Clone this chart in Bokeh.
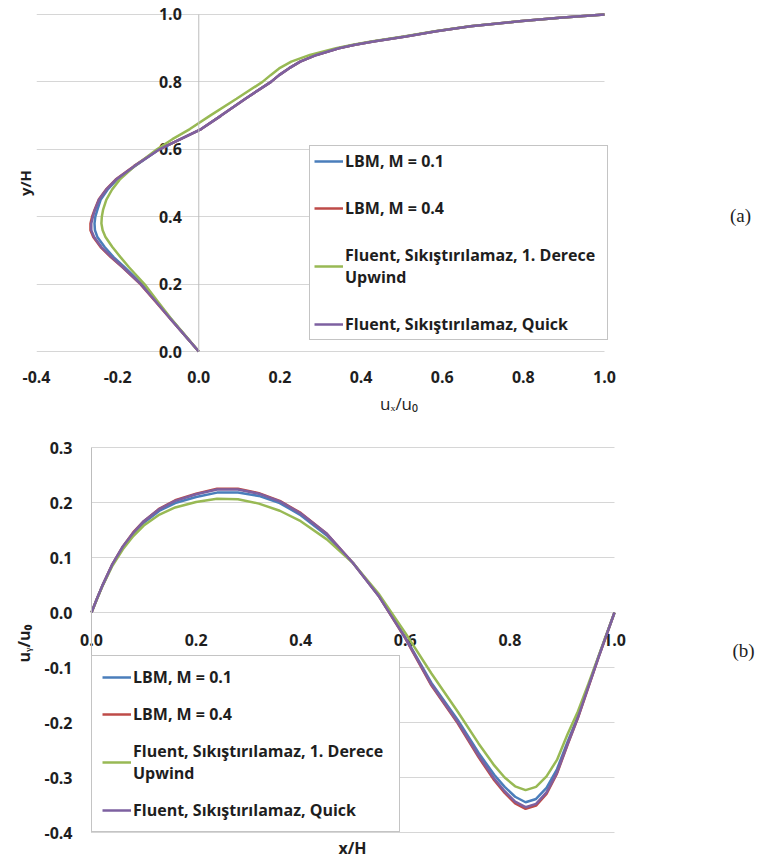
from bokeh.plotting import figure
from bokeh.models import (FixedTicker, Legend, LegendItem, Label, Range1d, Arrow,
                          NumeralTickFormatter, Grid)
from bokeh.core.properties import value
from bokeh.layouts import column
from bokeh.embed import file_html
from bokeh.resources import INLINE

# ---------------- data: (a) u_x/u_0 along the vertical centreline ----------------
y_a = [0.0, 0.05, 0.10, 0.15, 0.20, 0.25, 0.28, 0.31, 0.34, 0.36, 0.38, 0.40,
       0.42, 0.45, 0.48, 0.51, 0.55, 0.60, 0.63, 0.66, 0.70, 0.75, 0.80, 0.82,
       0.84, 0.86, 0.88, 0.90, 0.91, 0.92, 0.935, 0.95, 0.965, 0.98, 0.99, 1.00]
ux_lbm01 = [0.0, -0.036, -0.071, -0.105, -0.140, -0.183, -0.210, -0.232, -0.250,
            -0.256, -0.257, -0.255, -0.250, -0.242, -0.225, -0.202, -0.158, -0.097,
            -0.045, 0.006, 0.055, 0.115, 0.178, 0.198, 0.222, 0.250, 0.290, 0.345,
            0.385, 0.430, 0.510, 0.585, 0.670, 0.790, 0.890, 1.0]
ux_lbm04 = [0.0, -0.036, -0.072, -0.108, -0.144, -0.188, -0.217, -0.242, -0.260,
            -0.267, -0.267, -0.263, -0.257, -0.247, -0.229, -0.205, -0.160, -0.098,
            -0.045, 0.006, 0.055, 0.115, 0.178, 0.198, 0.222, 0.250, 0.290, 0.345,
            0.385, 0.430, 0.510, 0.585, 0.670, 0.790, 0.890, 1.0]
ux_upwind = [0.0, -0.035, -0.070, -0.102, -0.134, -0.172, -0.193, -0.213, -0.230,
             -0.237, -0.240, -0.239, -0.236, -0.228, -0.214, -0.195, -0.158, -0.103,
             -0.065, -0.022, 0.028, 0.093, 0.157, 0.177, 0.198, 0.228, 0.274, 0.338,
             0.380, 0.425, 0.505, 0.582, 0.668, 0.790, 0.890, 1.0]
ux_quick = [0.0, -0.036, -0.072, -0.107, -0.143, -0.187, -0.215, -0.240, -0.258,
            -0.265, -0.265, -0.261, -0.256, -0.246, -0.228, -0.204, -0.159, -0.097,
            -0.045, 0.006, 0.055, 0.115, 0.178, 0.198, 0.222, 0.250, 0.290, 0.345,
            0.385, 0.430, 0.510, 0.585, 0.670, 0.790, 0.890, 1.0]
xticks_a = [-0.4, -0.2, 0.0, 0.2, 0.4, 0.6, 0.8, 1.0]
yticks_a = [0.0, 0.2, 0.4, 0.6, 0.8, 1.0]
ylabels_a = ["0.0", "0.2", "0.4", "0.6", "0.8", "1.0"]

# ---------------- data: (b) u_y/u_0 along the horizontal centreline --------------
x_b = [0.0, 0.01, 0.02, 0.04, 0.06, 0.08, 0.10, 0.13, 0.16, 0.20, 0.24, 0.28,
       0.32, 0.36, 0.40, 0.45, 0.50, 0.55, 0.60, 0.65, 0.70, 0.74, 0.77, 0.79,
       0.81, 0.83, 0.85, 0.87, 0.89, 0.91, 0.93, 0.95, 0.97, 1.00]
uy_lbm01 = [0.0, 0.024, 0.047, 0.087, 0.119, 0.143, 0.163, 0.185, 0.199, 0.210,
            0.218, 0.218, 0.212, 0.199, 0.177, 0.140, 0.090, 0.029, -0.045, -0.128,
            -0.195, -0.255, -0.295, -0.317, -0.335, -0.345, -0.339, -0.319, -0.285,
            -0.236, -0.189, -0.134, -0.079, 0.0]
uy_lbm04 = [0.0, 0.024, 0.047, 0.088, 0.120, 0.146, 0.166, 0.189, 0.204, 0.216,
            0.225, 0.225, 0.217, 0.203, 0.181, 0.143, 0.090, 0.029, -0.047, -0.133,
            -0.201, -0.263, -0.305, -0.328, -0.347, -0.357, -0.351, -0.330, -0.293,
            -0.241, -0.192, -0.136, -0.080, 0.0]
uy_upwind = [0.0, 0.023, 0.046, 0.085, 0.115, 0.139, 0.158, 0.178, 0.191, 0.201,
             0.207, 0.206, 0.198, 0.185, 0.166, 0.133, 0.090, 0.033, -0.037, -0.111,
             -0.180, -0.238, -0.278, -0.300, -0.316, -0.323, -0.317, -0.298, -0.268,
             -0.222, -0.180, -0.130, -0.078, 0.0]
uy_quick = [0.0, 0.024, 0.047, 0.088, 0.120, 0.145, 0.166, 0.188, 0.203, 0.215,
            0.2235, 0.2235, 0.216, 0.202, 0.180, 0.143, 0.090, 0.029, -0.046, -0.131,
            -0.199, -0.260, -0.302, -0.325, -0.344, -0.354, -0.348, -0.327, -0.291,
            -0.240, -0.191, -0.135, -0.080, 0.0]
xticks_b = [0.0, 0.2, 0.4, 0.6, 0.8, 1.0]
xlabels_b = ["0.0", "0.2", "0.4", "0.6", "0.8", "1.0"]
yticks_b = [-0.4, -0.3, -0.2, -0.1, 0.0, 0.1, 0.2, 0.3]
ylabels_b = ["-0.4", "-0.3", "-0.2", "-0.1", "0.0", "0.1", "0.2", "0.3"]

series_names = ["LBM, M = 0.1", "LBM, M = 0.4",
                "Fluent, Sıkıştırılamaz, 1. Derece\nUpwind",
                "Fluent, Sıkıştırılamaz, Quick"]
series_colors = ["#4a7ebb", "#be4b48", "#98b954", "#7d60a0"]

FONT = "Open Sans"
TXT = "#1e1e1e"
GRID = "#d6d6d6"
AXL = "#bdbdbd"
TICK_FS = "16px"
HAS_CROSS = "cross_bounds" in Grid.properties()


def style_common(p):
    p.outline_line_color = None
    p.background_fill_color = "white"
    p.border_fill_color = "white"
    p.xgrid.visible = False


def hgrid(p, ticks, x0, x1):
    g = p.ygrid[0]
    g.ticker = FixedTicker(ticks=ticks)
    g.grid_line_color = GRID
    g.grid_line_width = 1
    if HAS_CROSS:
        g.cross_bounds = (x0, x1)
    else:
        g.visible = False
        p.segment(x0=[x0] * len(ticks), y0=ticks, x1=[x1] * len(ticks), y1=ticks,
                  line_color=GRID, line_width=1)


def title_yaxis(ax, text, size):
    ax.ticker = FixedTicker(ticks=[])
    ax.axis_line_color = None
    ax.major_tick_line_color = None
    ax.minor_tick_line_color = None
    ax.major_tick_out = 0
    ax.axis_label = text
    ax.axis_label_standoff = 2
    ax.axis_label_text_font = FONT
    ax.axis_label_text_font_size = size
    ax.axis_label_text_font_style = "bold"
    ax.axis_label_text_color = TXT


def tick_text(p, xs, ys, labels, align, xo, yo):
    p.text(x=xs, y=ys, text=labels, x_offset=xo, y_offset=yo,
           text_font=value(FONT), text_font_style="bold", text_font_size=TICK_FS,
           text_color=TXT, text_align=align, text_baseline="middle")


def make_legend(items, loc, spacing, padding, label_width):
    lg = Legend(items=items, location=loc)
    lg.label_text_font = FONT
    lg.label_text_font_style = "bold"
    lg.label_text_font_size = "16px"
    lg.label_text_color = TXT
    lg.glyph_width = 29
    lg.glyph_height = 20
    lg.label_standoff = 2
    lg.label_height = 20
    lg.label_width = label_width
    lg.spacing = spacing
    lg.padding = padding
    lg.margin = 0
    lg.border_line_color = "#8a8a8a"
    lg.border_line_width = 1
    lg.background_fill_color = "white"
    lg.background_fill_alpha = 1.0
    return lg


def frame_label(p, x, y, text, font, size, style="normal"):
    p.add_layout(Label(x=x, y=y, x_units="screen", y_units="screen", text=text,
                       text_font=font, text_font_size=size, text_font_style=style,
                       text_align="center", text_baseline="middle", text_color=TXT))


FRAME_LEFT = 36
FRAME_W = 725

# ============================== figure (a) ==============================
sx_a = 405.7
sy_a = 337.4
pa = figure(frame_width=FRAME_W, frame_height=361,
            x_range=Range1d(-0.4, -0.4 + FRAME_W / sx_a),
            y_range=Range1d(-12 / sy_a, 1.0 + 12 / sy_a),
            min_border_left=FRAME_LEFT, min_border_right=0, min_border_top=2,
            min_border_bottom=62, output_backend="svg", toolbar_location=None)
style_common(pa)

xa = pa.xaxis[0]
xa.ticker = FixedTicker(ticks=xticks_a)
xa.formatter = NumeralTickFormatter(format="0.0")
xa.major_label_text_font = FONT
xa.major_label_text_font_style = "bold"
xa.major_label_text_font_size = TICK_FS
xa.major_label_text_color = TXT
xa.major_tick_line_color = None
xa.minor_tick_line_color = None
xa.major_tick_out = 0
xa.major_tick_in = 0
xa.major_label_standoff = 7
xa.axis_line_color = None
xa.axis_label = "uₓ/u₀"
xa.axis_label_text_font = FONT
xa.axis_label_text_font_size = "17px"
xa.axis_label_text_font_style = "normal"
xa.axis_label_text_color = TXT
xa.axis_label_standoff = 6

title_yaxis(pa.yaxis[0], "y/H", "15px")

hgrid(pa, yticks_a, xticks_a[0], xticks_a[-1])
pa.add_layout(Arrow(x_start=0.0, y_start=yticks_a[0], x_end=0.0, y_end=yticks_a[-1],
                    start=None, end=None, line_color=AXL, line_width=1))
tick_text(pa, [0.0] * len(yticks_a), yticks_a, ylabels_a, "right", -17, 0)

ra = []
for xs, c in zip([ux_lbm01, ux_lbm04, ux_upwind, ux_quick], series_colors):
    ra.append(pa.line(xs, y_a, line_color=c, line_width=2.5))

leg_a = make_legend([LegendItem(label=n, renderers=[r]) for n, r in zip(series_names, ra)],
                    (273, 23), 25, 4, 258)
pa.add_layout(leg_a, "center")
frame_label(pa, 740 - FRAME_LEFT, 148, "(a)", "Liberation Serif", "19px")

# ============================== figure (b) ==============================
sx_b = 523.0
sy_b = 550.0
x0_b = -(91 - FRAME_LEFT) / sx_b
pb = figure(frame_width=FRAME_W, frame_height=436,
            x_range=Range1d(x0_b, x0_b + FRAME_W / sx_b),
            y_range=Range1d(-0.4 - 29 / sy_b, 0.3 + 22 / sy_b),
            min_border_left=FRAME_LEFT, min_border_right=0, min_border_top=0,
            min_border_bottom=0, output_backend="svg", toolbar_location=None)
style_common(pb)
pb.xaxis.visible = False
title_yaxis(pb.yaxis[0], "uᵧ/u₀", "16px")

hgrid(pb, yticks_b, xticks_b[0], xticks_b[-1])
pb.add_layout(Arrow(x_start=0.0, y_start=yticks_b[0], x_end=0.0, y_end=yticks_b[-1],
                    start=None, end=None, line_color=AXL, line_width=1))
tick_text(pb, [0.0] * len(yticks_b), yticks_b, ylabels_b, "right", -19, 0)
tick_text(pb, xticks_b, [0.0] * len(xticks_b), xlabels_b, "center", 0, 27)

rb = []
for ys, c in zip([uy_lbm01, uy_lbm04, uy_upwind, uy_quick], series_colors):
    rb.append(pb.line(x_b, ys, line_color=c, line_width=2.5))

leg_b = make_legend([LegendItem(label=n, renderers=[r]) for n, r in zip(series_names, rb)],
                    (91 - FRAME_LEFT, 29), 15, 10, 256)
pb.add_layout(leg_b, "center")
frame_label(pb, 352 - FRAME_LEFT, 14, "x/H", FONT, "16px", "bold")
frame_label(pb, 743 - FRAME_LEFT, 211, "(b)", "Liberation Serif", "19px")

layout = column(pa, pb, spacing=0)
open("out.html", "w").write(file_html(layout, INLINE))
